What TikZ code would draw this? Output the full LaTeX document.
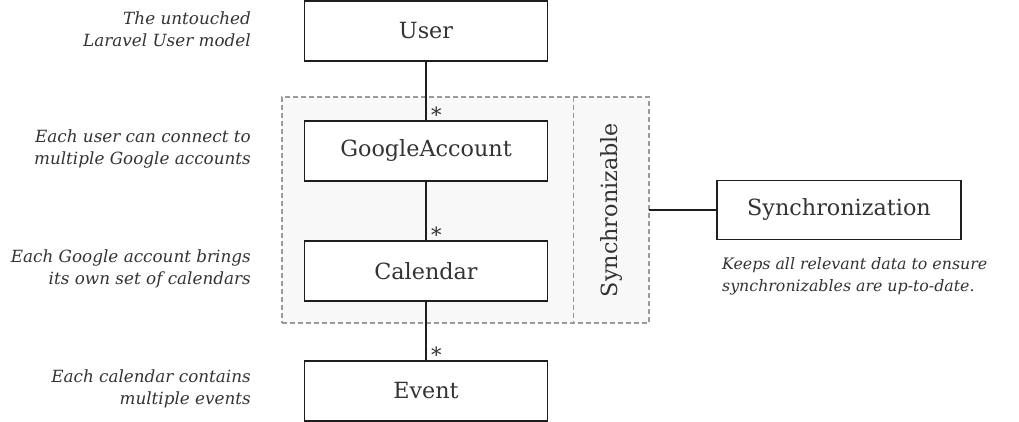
\documentclass[tikz,border=0pt]{standalone}
\usepackage{fontspec}
\setmainfont{DejaVu Serif}
\begin{document}
\begin{tikzpicture}[x=1pt,y=-1pt,
  txt/.style={text=textgray},
  entity/.style={draw=boxline, line width=1.6pt, fill=white, minimum width=243pt, minimum height=60pt, inner sep=0pt, font=\fontsize{22.3}{25}\selectfont, txt},
  note/.style={font=\fontsize{16.8}{22.5}\selectfont\itshape, txt, inner sep=0pt},
  caption/.style={font=\fontsize{15.8}{21.7}\selectfont\itshape, txt, inner sep=0pt},
  link/.style={draw=boxline, line width=1.3pt},
  mult/.style={font=\fontsize{21}{21}\selectfont, txt, inner sep=0pt, anchor=south west},
  groupbox/.style={draw=dashgray, dash pattern=on 5pt off 3pt, line width=1.2pt, fill=groupfill, inner sep=0pt}
]
\definecolor{textgray}{HTML}{333333}
\definecolor{boxline}{HTML}{1E1E1E}
\definecolor{dashgray}{HTML}{9A9A9A}
\definecolor{groupfill}{HTML}{F8F8F8}
\useasboundingbox (0,0) rectangle (1019,422);

% synchronizable group
\node[groupbox, minimum width=367pt, minimum height=226pt] (group) at (465.5,210) {};
\node[inner sep=0pt, minimum width=75pt, minimum height=226pt] (synclabel) at (611.5,210) {};
\node[rotate=90, font=\fontsize{22.3}{25}\selectfont, txt] (synctext) at (synclabel.center) {Synchronizable};
\draw[draw=dashgray, dash pattern=on 5pt off 3pt, line width=1.2pt] (synclabel.north west) -- (synclabel.south west);

% entities
\node[entity] (user) at (426,31) {User};
\node[entity] (ga) at (426,151) {GoogleAccount};
\node[entity] (cal) at (426,271) {Calendar};
\node[entity] (event) at (426,391) {Event};
\node[entity, minimum width=244pt, minimum height=59pt] (sync) at (839,210) {Synchronization};

% connectors
\draw[link] (user.south) -- (ga.north);
\draw[link] (ga.south) -- (cal.north);
\draw[link] (cal.south) -- (event.north);
\draw[link] (synclabel.east) -- (sync.west);

% multiplicities
\node[mult] (m1) at ([xshift=5pt,yshift=-2.5pt]ga.north) {*};
\node[mult] (m2) at ([xshift=5pt,yshift=-2.5pt]cal.north) {*};
\node[mult] (m3) at ([xshift=5pt,yshift=-2.5pt]event.north) {*};

% notes
\node[note, align=right, anchor=east] (n1) at (251,29) {The untouched\\Laravel User model};
\node[note, align=right, anchor=east] (n2) at (251,149) {Each user can connect to\\multiple Google accounts};
\node[note, align=right, anchor=east] (n3) at (251,269) {Each Google account brings\\its own set of calendars};
\node[note, align=right, anchor=east] (n4) at (251,389) {Each calendar contains\\multiple events};
\node[caption, align=left, anchor=west] (n5) at (722,276) {Keeps all relevant data to ensure\\synchronizables are up-to-date.};
\end{tikzpicture}
\end{document}
